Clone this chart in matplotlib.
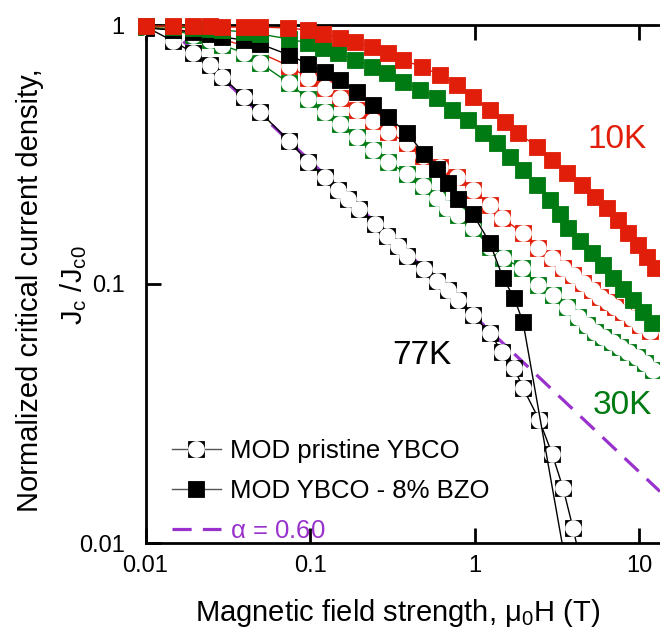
import numpy as np
import matplotlib
matplotlib.use("Agg")
import matplotlib.pyplot as plt
from matplotlib.lines import Line2D
from matplotlib.legend_handler import HandlerTuple

plt.rcParams['font.family'] = ['Liberation Sans', 'DejaVu Sans']
plt.rcParams['mathtext.fontset'] = 'custom'
plt.rcParams['mathtext.rm'] = 'Liberation Sans'
plt.rcParams['mathtext.it'] = 'Liberation Sans:italic'

RED = '#E01E0A'
GREEN = '#007A12'
BLACK = '#000000'
PURPLE = '#9932CC'

# ---- 77 K ----
h_77_pristine = [0.01, 0.0147, 0.0195, 0.0247, 0.0292, 0.0397, 0.0497, 0.0745, 0.0973,
                 0.123, 0.148, 0.170, 0.199, 0.248, 0.294, 0.343, 0.389, 0.493, 0.592,
                 0.690, 0.794, 0.979, 1.24, 1.47, 1.74, 1.97, 2.47, 2.96, 3.45, 3.97, 4.4]
jc_77_pristine = [0.985, 0.867, 0.780, 0.701, 0.630, 0.527, 0.461, 0.357, 0.296,
                  0.259, 0.231, 0.213, 0.195, 0.171, 0.153, 0.140, 0.128, 0.114, 0.103,
                  0.0948, 0.0868, 0.0759, 0.0647, 0.0546, 0.0474, 0.0397, 0.0299, 0.0221,
                  0.0163, 0.0114, 0.0085]

h_77_bzo = [0.01, 0.0147, 0.0195, 0.0247, 0.0292, 0.0397, 0.0497, 0.0745, 0.0973,
            0.123, 0.152, 0.193, 0.242, 0.298, 0.389, 0.493, 0.592, 0.690, 0.794,
            0.979, 1.24, 1.49, 1.74, 1.97, 3.55]
jc_77_bzo = [0.974, 0.956, 0.940, 0.923, 0.899, 0.875, 0.845, 0.766, 0.707,
             0.658, 0.613, 0.551, 0.491, 0.441, 0.383, 0.318, 0.278, 0.245, 0.213,
             0.186, 0.144, 0.1055, 0.0883, 0.0713, 0.0086]

# ---- 30 K ----
h_30_pristine = [0.01, 0.0147, 0.0195, 0.0247, 0.0292, 0.0397, 0.0497, 0.0745, 0.0973,
                 0.123, 0.152, 0.193, 0.242, 0.298, 0.389, 0.486, 0.592, 0.681, 0.794,
                 0.979, 1.24, 1.49, 1.94, 2.43, 3.00, 3.65, 4.26, 4.83, 5.40, 6.04,
                 6.85, 7.66, 8.57, 9.72, 10.9, 12.2]
jc_30_pristine = [0.982, 0.956, 0.915, 0.875, 0.837, 0.780, 0.713, 0.597, 0.518,
                  0.461, 0.415, 0.369, 0.329, 0.296, 0.266, 0.239, 0.215, 0.197, 0.185,
                  0.164, 0.139, 0.126, 0.115, 0.0991, 0.0907, 0.0815, 0.0746, 0.0695,
                  0.0653, 0.0624, 0.0597, 0.0571, 0.0546, 0.0522, 0.0495, 0.0466]

h_30_bzo = [0.01, 0.0147, 0.0195, 0.0247, 0.0292, 0.0397, 0.0497, 0.0745, 0.0973,
            0.120, 0.148, 0.188, 0.238, 0.294, 0.367, 0.466, 0.592, 0.730, 0.913,
            1.13, 1.37, 1.64, 1.97, 2.40, 2.88, 3.31, 3.70, 4.38, 5.18, 6.04, 6.95,
            8.00, 9.20, 10.6, 12.0]
jc_30_bzo = [0.991, 0.982, 0.974, 0.965, 0.956, 0.940, 0.923, 0.883, 0.852,
             0.815, 0.780, 0.733, 0.688, 0.653, 0.602, 0.561, 0.523, 0.470, 0.430,
             0.383, 0.350, 0.309, 0.276, 0.241, 0.211, 0.186, 0.164, 0.147, 0.132,
             0.118, 0.1055, 0.0957, 0.0868, 0.0780, 0.0707]

# ---- 10 K ----
h_10_pristine = [0.01, 0.0147, 0.0195, 0.0247, 0.0292, 0.0397, 0.0497, 0.0745, 0.0973,
                 0.123, 0.152, 0.193, 0.242, 0.298, 0.389, 0.486, 0.616, 0.783, 0.979,
                 1.24, 1.47, 1.97, 2.43, 2.96, 3.45, 3.97, 4.57, 5.18, 5.80, 6.49,
                 7.14, 8.00, 9.06, 10.1, 11.7]
jc_10_pristine = [0.982, 0.965, 0.940, 0.915, 0.883, 0.830, 0.780, 0.695, 0.624,
                  0.571, 0.523, 0.470, 0.426, 0.386, 0.350, 0.312, 0.283, 0.259, 0.231,
                  0.202, 0.180, 0.157, 0.138, 0.126, 0.115, 0.108, 0.101, 0.0948,
                  0.0891, 0.0853, 0.0815, 0.0780, 0.0739, 0.0695, 0.0659]

h_10_bzo = [0.01, 0.0147, 0.0195, 0.0247, 0.0292, 0.0397, 0.0497, 0.0735, 0.0973,
            0.120, 0.152, 0.188, 0.238, 0.298, 0.367, 0.480, 0.616, 0.783, 0.979,
            1.24, 1.53, 1.84, 2.40, 2.96, 3.65, 4.50, 5.40, 6.40, 7.45, 8.57, 9.86,
            11.2, 12.5]
jc_10_bzo = [0.991, 0.991, 0.991, 0.991, 0.982, 0.982, 0.982, 0.974, 0.956,
             0.923, 0.891, 0.860, 0.822, 0.780, 0.733, 0.689, 0.641, 0.587, 0.527,
             0.470, 0.422, 0.383, 0.338, 0.301, 0.268, 0.241, 0.217, 0.1965, 0.177,
             0.157, 0.1415, 0.127, 0.115]

# power-law guide  Jc/Jc0 = A * H^(-alpha)
alpha = 0.60
alpha_prefactor = 0.075
alpha_field_range = [0.017, 13.4]

# axes ranges and ticks
x_limits = [0.01, 13.4]
y_limits = [0.01, 1]
x_ticks = [0.01, 0.1, 1, 10]
x_tick_labels = ['0.01', '0.1', '1', '10']
y_ticks = [0.01, 0.1, 1]
y_tick_labels = ['0.01', '0.1', '1']

MS = 12

fig = plt.figure(figsize=(6.6, 6.3), dpi=100)
ax = fig.add_axes([145.5 / 660, 87 / 630, 1 - 145.5 / 660, 518 / 630])
ax.set_xscale('log')
ax.set_yscale('log')
ax.set_xlim(*x_limits)
ax.set_ylim(*y_limits)

# alpha guide line
h_fit = np.geomspace(alpha_field_range[0], alpha_field_range[1], 50)
ax.plot(h_fit, alpha_prefactor * h_fit ** (-alpha), color=PURPLE, lw=2.3,
        ls=(0, (6, 3.5)), zorder=2)


def open_series(x, y, color, z, clip=False):
    ax.plot(x, y, '-', color=color, lw=1.0, zorder=z, clip_on=clip)
    ax.plot(x, y, ls='none', marker='s', ms=MS, mfc=color, mec=color, mew=0.6,
            zorder=z, clip_on=clip)
    ax.plot(x, y, ls='none', marker='o', ms=MS, mfc='white', mec='white', mew=0,
            zorder=z, clip_on=clip)


def filled_series(x, y, color, z, clip=False):
    ax.plot(x, y, '-', color=color, lw=1.0, zorder=z, clip_on=clip)
    ax.plot(x, y, ls='none', marker='s', ms=MS, mfc=color, mec=color, mew=0.6,
            zorder=z, clip_on=clip)


open_series(h_77_pristine, jc_77_pristine, BLACK, 3, clip=True)
open_series(h_10_pristine, jc_10_pristine, RED, 4)
open_series(h_30_pristine, jc_30_pristine, GREEN, 5)
filled_series(h_77_bzo, jc_77_bzo, BLACK, 6, clip=True)
filled_series(h_30_bzo, jc_30_bzo, GREEN, 7)
filled_series(h_10_bzo, jc_10_bzo, RED, 8)

# axes styling
for side in ['left', 'bottom', 'top']:
    ax.spines[side].set_linewidth(2.0)
    ax.spines[side].set_zorder(2.5)
ax.spines['right'].set_visible(False)
ax.set_xticks(x_ticks)
ax.set_xticklabels(x_tick_labels)
ax.set_yticks(y_ticks)
ax.set_yticklabels(y_tick_labels)
ax.minorticks_off()
ax.tick_params(which='major', direction='in', length=11, width=2.0,
               labelsize=17, top=True, right=False)
ax.tick_params(axis='x', pad=9)
ax.tick_params(axis='y', pad=15)

ax.set_xlabel(r'Magnetic field strength, $\mathregular{\mu_0}$H (T)', fontsize=21,
              labelpad=12)
ax.xaxis.set_label_coords((398 - 145.5) / 514.5, -0.105)
fig.text(30 / 660, 1 - 290 / 630, 'Normalized critical current density,',
         rotation=90, ha='center', va='center', fontsize=21)
fig.text(74 / 660, 1 - 285 / 630, r'J$_\mathregular{c}$ /J$_\mathregular{c0}$',
         rotation=90, ha='center', va='center', fontsize=21)

# temperature labels
fig.text(617 / 660, 1 - 139 / 630, '10K', color=RED, fontsize=24, ha='center', va='center')
fig.text(422 / 660, 1 - 355 / 630, '77K', color=BLACK, fontsize=24, ha='center', va='center')
fig.text(622 / 660, 1 - 405 / 630, '30K', color=GREEN, fontsize=24, ha='center', va='center')

# legend
h_pristine = (Line2D([], [], color='#555555', lw=1.0, marker='s', ms=MS, mfc=BLACK,
                     mec=BLACK, mew=0.6),
              Line2D([], [], ls='none', marker='o', ms=MS, mfc='white', mec='white', mew=0))
h_bzo = Line2D([], [], color='#555555', lw=1.0, marker='s', ms=MS, mfc=BLACK, mec=BLACK,
               mew=0.6)
h_alpha = Line2D([], [], color=PURPLE, lw=2.3, ls=(0, (6, 3.5)))
leg = ax.legend([h_pristine, h_bzo, h_alpha],
                ['MOD pristine YBCO', 'MOD YBCO - 8% BZO', r'$\mathregular{\alpha}$ = 0.60'],
                handler_map={tuple: HandlerTuple(ndivide=1)},
                loc='lower left', bbox_to_anchor=(172 / 660, 1 - 543 / 630),
                bbox_transform=fig.transFigure, frameon=False, fontsize=18.5,
                handlelength=1.9, handletextpad=0.35, labelspacing=0.62,
                borderpad=0, borderaxespad=0)
leg.get_texts()[2].set_color(PURPLE)
leg.set_zorder(10)

fig.savefig('out.png', dpi=100)
